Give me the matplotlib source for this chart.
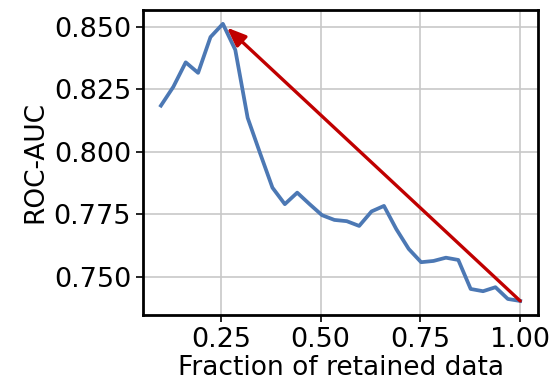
import matplotlib
matplotlib.use("Agg")
import matplotlib.pyplot as plt
import numpy as np

# Fraction of data retained and the resulting ROC-AUC
fraction = np.linspace(0.1, 1.0, 30)
roc_auc = [0.8185, 0.8260, 0.8358, 0.8316, 0.8459, 0.8512, 0.8408, 0.8136,
           0.7995, 0.7857, 0.7791, 0.7837, 0.7791, 0.7747, 0.7728, 0.7723,
           0.7704, 0.7762, 0.7784, 0.7691, 0.7612, 0.7559, 0.7564, 0.7577,
           0.7568, 0.7452, 0.7443, 0.7459, 0.7412, 0.7404]

xticks = [0.25, 0.50, 0.75, 1.00]
yticks = [0.750, 0.775, 0.800, 0.825, 0.850]

fig = plt.figure(figsize=(5.52, 3.83), dpi=100)
ax = fig.add_axes([0.259, 0.178, 0.716, 0.796])

ax.plot(fraction, roc_auc, color="#4c78b4", lw=2.7, zorder=3)

best = int(np.argmax(roc_auc))
ax.annotate("", xy=(fraction[best], roc_auc[best]),
            xytext=(fraction[-1], roc_auc[-1]),
            arrowprops=dict(arrowstyle="-|>,head_length=0.75,head_width=0.3",
                            color="#c00000", lw=2.4,
                            mutation_scale=15, shrinkA=0, shrinkB=4),
            zorder=4)

ax.set_xticks(xticks)
ax.set_xticklabels([f"{t:.2f}" for t in xticks])
ax.set_yticks(yticks)
ax.set_yticklabels([f"{t:.3f}" for t in yticks])
ax.tick_params(labelsize=19.5, length=5, width=1.2)
ax.grid(True, color="#c8c8c8", lw=1.2)
ax.set_axisbelow(True)
for s in ax.spines.values():
    s.set_linewidth(2)
    s.set_color("black")

ax.set_xlabel("Fraction of retained data", fontsize=19, labelpad=2)
ax.set_ylabel("ROC-AUC", fontsize=19, labelpad=4)

fig.savefig("out.png", dpi=100)
